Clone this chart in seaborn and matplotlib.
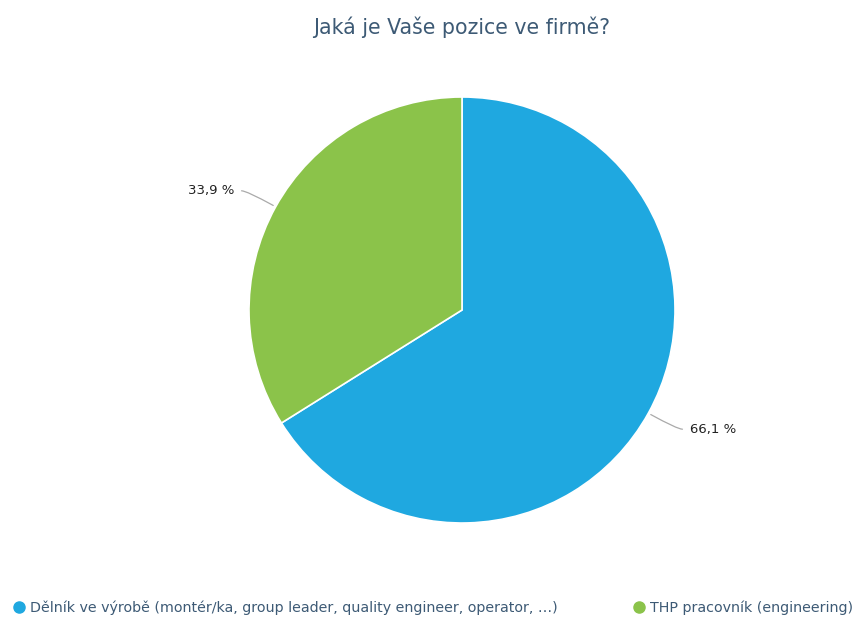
import matplotlib
matplotlib.use("Agg")
import matplotlib.pyplot as plt
import seaborn as sns
import numpy as np
from matplotlib.lines import Line2D

# data
categories = [
    "Dělník ve výrobě (montér/ka, group leader, quality engineer, operator, …)",
    "THP pracovník (engineering)",
]
shares = [66.1, 33.9]
colors = ["#1fa8e0", "#8bc34a"]
title = "Jaká je Vaše pozice ve firmě?"

sns.set_theme(style="white")
plt.rcParams["font.family"] = ["DejaVu Sans"]

W, H = 864, 619
fig = plt.figure(figsize=(W / 100, H / 100), dpi=100)

cx, cy, r = 462, 310, 213
ax = fig.add_axes([(cx - r) / W, (H - cy - r) / H, 2 * r / W, 2 * r / H])

wedges, _ = ax.pie(
    shares,
    colors=colors,
    startangle=90,
    counterclock=False,
    radius=1,
    wedgeprops=dict(edgecolor="white", linewidth=1.2),
)
ax.set_xlim(-1, 1)
ax.set_ylim(-1, 1)

# percentage labels with curved leader lines
for w, v in zip(wedges, shares):
    mid = (w.theta1 + w.theta2) / 2
    ang = np.deg2rad(mid)
    x, y = np.cos(ang), np.sin(ang)
    side = 1 if x > 0 else -1
    ex, ey = side * 1.035, y * 1.155
    ax.annotate(
        "", xy=(x, y), xytext=(ex, ey),
        arrowprops=dict(arrowstyle="-", color="#aaaaaa", lw=0.9,
                        connectionstyle=f"angle3,angleA=0,angleB={mid}",
                        shrinkA=0, shrinkB=2),
        annotation_clip=False,
    )
    ax.text(ex + side * 0.035, ey, f"{v:.1f} %".replace(".", ","),
            ha="left" if side > 0 else "right", va="center",
            fontsize=9.5, color="#222222")

fig.text(462 / W, 1 - 27 / H, title, ha="center", va="center",
         fontsize=14.8, color="#3d5a75")

handles = [Line2D([], [], marker="o", linestyle="", markersize=8,
                  markerfacecolor=c, markeredgecolor=c) for c in colors]
fig.legend(handles, categories, loc="center left",
           bbox_to_anchor=(-2 / W, 1 - 608 / H), ncol=2, frameon=False,
           fontsize=10.3, labelcolor="#3d5a75", handletextpad=0.15,
           columnspacing=5.1, handlelength=1.2)

fig.savefig("out.png", dpi=100)
